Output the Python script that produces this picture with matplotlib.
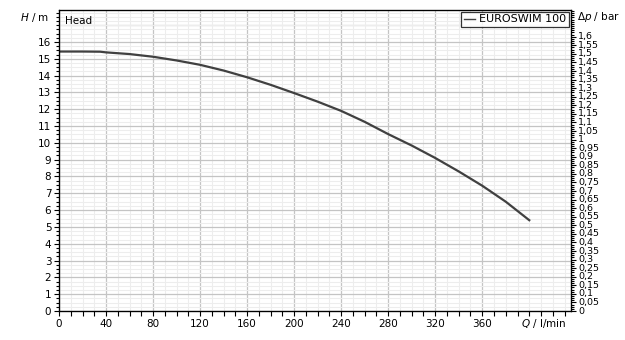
import numpy as np
import matplotlib
matplotlib.use("Agg")
import matplotlib.pyplot as plt
from matplotlib.ticker import MultipleLocator, FixedLocator, FuncFormatter

# ==========================================
# DATA
# ==========================================
flow = [0, 20, 35, 40, 60, 80, 100, 120, 140, 160, 180, 200, 220, 240,
        260, 280, 300, 320, 340, 360, 380, 400]
head = [15.43, 15.43, 15.42, 15.38, 15.28, 15.12, 14.9, 14.64, 14.3, 13.9,
        13.45, 12.96, 12.45, 11.9, 11.25, 10.52, 9.84, 9.1, 8.3, 7.45,
        6.5, 5.4]
x_labels = [0, 40, 80, 120, 160, 200, 240, 280, 320, 360]
y_labels = list(range(0, 17))
series_name = "EUROSWIM 100"
M_TO_BAR = 0.0981

# ==========================================
# FIGURE
# ==========================================
plt.rcParams["font.family"] = "DejaVu Sans"
fig = plt.figure(figsize=(6.25, 3.4), dpi=100)
ax = fig.add_axes([59 / 625, 29 / 340, 512 / 625, 301 / 340])

ax.set_xlim(0, 435.5)
ax.set_ylim(0, 17.9)

# grid
ax.xaxis.set_major_locator(FixedLocator(x_labels))
ax.xaxis.set_minor_locator(MultipleLocator(10))
ax.yaxis.set_major_locator(FixedLocator(y_labels))
ax.yaxis.set_minor_locator(MultipleLocator(0.25))
ax.grid(which="minor", color="#ededed", linewidth=0.8)
ax.grid(which="major", color="#c4c4c4", linewidth=0.9)
ax.axhline(17, color="#c4c4c4", linewidth=0.9, zorder=0.5)
ax.set_axisbelow(True)

ax.plot(flow, head, color="#404040", linewidth=1.6, label=series_name)

ax.tick_params(axis="both", which="both", direction="out", labelsize=7.5,
               color="black", width=0.8)
ax.tick_params(axis="both", which="major", length=3.5, pad=2)
ax.tick_params(axis="x", which="minor", length=3.5)
ax.tick_params(axis="y", which="minor", length=2.5)
for s in ax.spines.values():
    s.set_color("black")
    s.set_linewidth(0.9)

# ==========================================
# RIGHT AXIS (bar)
# ==========================================
ax2 = ax.twinx()
ax2.set_ylim(0, 17.9 * M_TO_BAR)
ax2.yaxis.set_major_locator(FixedLocator(np.round(np.arange(0, 1.601, 0.05), 2)))
ax2.yaxis.set_minor_locator(MultipleLocator(0.0125))
ax2.yaxis.set_major_formatter(
    FuncFormatter(lambda v, p: f"{round(v, 2):g}".replace(".", ",")))
ax2.tick_params(axis="y", which="both", direction="out", labelsize=6.8,
                color="black", width=0.8, pad=1.5)
ax2.tick_params(axis="y", which="major", length=3.5)
ax2.tick_params(axis="y", which="minor", length=2)
for lab in ax2.get_yticklabels():
    lab.set_family(["Liberation Sans Narrow", "DejaVu Sans"])
    lab.set_verticalalignment("center")

# ==========================================
# TEXT
# ==========================================
fig.text(49 / 625, 1 - 17 / 340, "$H$ / m", ha="right", va="center", fontsize=7.5)
fig.text(577 / 625, 1 - 17 / 340, r"$\Delta p$ / bar", ha="left", va="center", fontsize=7.5)
fig.text(566 / 625, 1 - 324 / 340, "$Q$ / l/min", ha="right", va="center", fontsize=7.5)
ax.text(0.012, 0.965, "Head", transform=ax.transAxes, ha="left", va="center", fontsize=7.5)

leg = ax.legend(loc="upper right", fontsize=8, handlelength=1.0, handletextpad=0.4,
                frameon=True, fancybox=False, borderpad=0.25, borderaxespad=0.15)
leg.get_frame().set_edgecolor("black")
leg.get_frame().set_linewidth(0.9)
leg.get_lines()[0].set_color("#404040")
leg.get_lines()[0].set_linewidth(1.0)

fig.savefig("out.png", dpi=100)
